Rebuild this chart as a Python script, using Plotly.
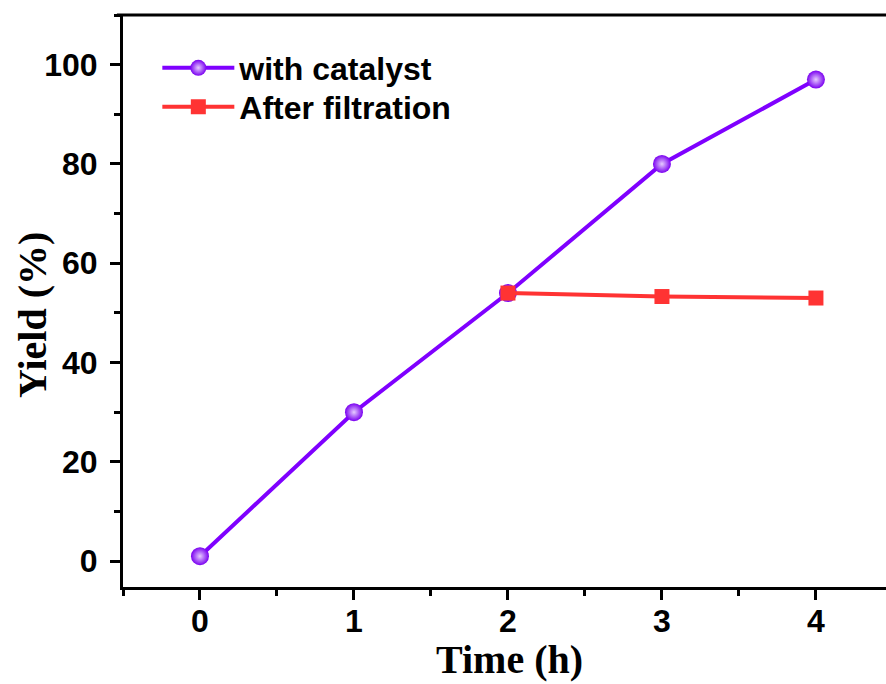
import plotly.graph_objects as go

# Reaction yield over time
time_h = [0, 1, 2, 3, 4]
yield_catalyst = [1, 30, 54, 80, 97]

time_filtered = [2, 3, 4]
yield_filtered = [54, 53.3, 53]

x_ticks = [0, 1, 2, 3, 4]
y_ticks = [0, 20, 40, 60, 80, 100]

PURPLE = "#7F00FF"
RED = "#FF3333"

SANS = "Liberation Sans, Arial, sans-serif"
SERIF = "Liberation Serif, Times New Roman, serif"

fig = go.Figure()

fig.add_trace(go.Scatter(
    x=time_h, y=yield_catalyst, name="with catalyst",
    mode="lines+markers", legend="legend",
    line=dict(color=PURPLE, width=4),
    marker=dict(symbol="circle", size=18, color="#7A00F0",
                gradient=dict(type="radial", color="#E6CCFF"),
                line=dict(width=0)),
))

fig.add_trace(go.Scatter(
    x=time_filtered, y=yield_filtered, name="After filtration",
    mode="lines+markers", legend="legend2",
    line=dict(color=RED, width=4),
    marker=dict(symbol="square", size=15, color=RED, line=dict(width=0)),
))

axis_common = dict(
    showline=True, linecolor="black", linewidth=3,
    ticks="outside", tickwidth=3, ticklen=10, tickcolor="black",
    showgrid=False, zeroline=False,
    tickfont=dict(family=SANS, size=32, color="black", weight="bold"),
)

fig.update_xaxes(
    **axis_common,
    range=[-0.5, 4.455],
    tickvals=x_ticks, ticktext=[str(v) for v in x_ticks],
    ticklabelstandoff=-6,
    minor=dict(ticks="outside", ticklen=6, tickwidth=3, tickcolor="black", dtick=0.5, tick0=0.5),
    mirror=False,
)
fig.update_yaxes(
    **axis_common,
    range=[-5.2, 110],
    tickvals=y_ticks, ticktext=[str(v) for v in y_ticks],
    ticklabelstandoff=6,
    minor=dict(ticks="outside", ticklen=6, tickwidth=3, tickcolor="black", dtick=10, tick0=10),
)

# axis titles
title_font = dict(family=SERIF, size=40, color="black", weight="bold")
fig.add_annotation(text="Time (h)", xref="paper", yref="paper",
                   x=(509 - 123) / 763, y=(587 - 684) / 572,
                   xanchor="center", yanchor="bottom", showarrow=False, font=title_font)
fig.add_annotation(text="Yield (%)", xref="paper", yref="paper",
                   x=(32 - 123) / 763, y=(587 - 315) / 572, textangle=-90,
                   xanchor="center", yanchor="middle", showarrow=False, font=title_font)

# top frame line
fig.add_shape(type="line", xref="paper", yref="paper", x0=-0.008, x1=1, y0=1, y1=1,
              line=dict(color="black", width=3))

legend_common = dict(
    xanchor="left", yanchor="middle", bgcolor="rgba(0,0,0,0)",
    font=dict(family=SANS, size=32, color="black", weight="bold"),
    itemwidth=72,
)

fig.update_layout(
    width=886, height=684,
    margin=dict(l=123, r=0, t=15, b=97),
    paper_bgcolor="white", plot_bgcolor="white",
    showlegend=True,
    legend=dict(x=0.045, y=(587 - 68) / 572, **legend_common),
    legend2=dict(x=0.045, y=(587 - 107) / 572, **legend_common),
)

fig.write_html("out.html")
